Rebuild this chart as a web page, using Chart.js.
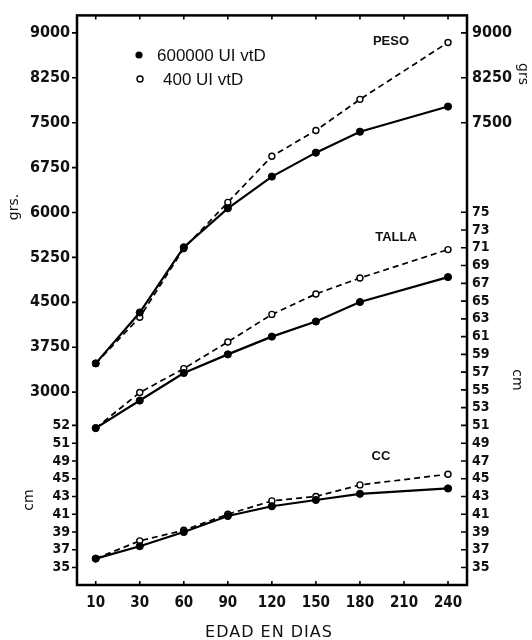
<!DOCTYPE html>
<html>
<head>
<meta charset="utf-8">
<script src="https://cdn.jsdelivr.net/npm/chart.js@4"></script>
<style>
html,body{margin:0;padding:0;background:#fff;}
#wrap{width:532px;height:640px;}
</style>
</head>
<body>
<div id="wrap"><canvas id="c" width="532" height="640"></canvas></div>
<script>
// ---- data ----
const xLabels = ['10','30','60','90','120','150','180','210','240'];
const days = ['10','30','60','90','120','150','180','240'];
const pesoHigh = [3480, 4330, 5420, 6070, 6600, 7000, 7350, 7770];
const pesoLow  = [3480, 4250, 5400, 6170, 6940, 7370, 7890, 8840];
const tallaHigh = [50.7, 53.8, 56.9, 59.0, 61.0, 62.7, 64.9, 67.7];
const tallaLow  = [50.7, 54.7, 57.4, 60.4, 63.5, 65.8, 67.6, 70.8];
const ccHigh = [36.0, 37.4, 39.0, 40.8, 41.9, 42.6, 43.3, 43.9];
const ccLow  = [36.0, 38.0, 39.2, 41.0, 42.5, 43.0, 44.3, 45.5];
const grsTicksLeft = [3000, 3750, 4500, 5250, 6000, 6750, 7500, 8250, 9000];
const grsTicksRight = [7500, 8250, 9000];
const cmTicksRight = [35,37,39,41,43,45,47,49,51,53,55,57,59,61,63,65,67,69,71,73,75];
const cmTicksLeftPos = [35,37,39,41,43,45,47,49,51];
const cmTicksLeftText = ['35','37','39','41','43','45','49','51','52'];
const seriesNames = ['600000 UI vtD', '400 UI vtD'];
const groupNames = ['PESO', 'TALLA', 'CC'];
const leftTitles = ['grs.', 'cm'];
const rightTitles = ['grs', 'cm'];
const xTitle = 'EDAD EN DIAS';

// ---- scale ranges ----
const GRS_MIN = -221, GRS_MAX = 9292;
const CM_MIN = 33.03, CM_MAX = 97.17;
const X_MIN = -0.425, X_MAX = 8.431;
const cmToGrs = c => GRS_MIN + (c - CM_MIN) / (CM_MAX - CM_MIN) * (GRS_MAX - GRS_MIN);
const grsToCm = g => CM_MIN + (g - GRS_MIN) / (GRS_MAX - GRS_MIN) * (CM_MAX - CM_MIN);

const pts = arr => arr.map((v, i) => ({x: xLabels.indexOf(days[i]), y: v}));

const solid = (data, axis) => ({
  data: pts(data), yAxisID: axis, borderColor: '#000', borderWidth: 2.2,
  pointRadius: 3.6, pointBackgroundColor: '#000', pointBorderColor: '#000',
  pointBorderWidth: 1, tension: 0, fill: false
});
const dashed = (data, axis) => ({
  data: pts(data), yAxisID: axis, borderColor: '#000', borderWidth: 1.7,
  borderDash: [6, 4], pointRadius: 3, pointBackgroundColor: '#fff',
  pointBorderColor: '#000', pointBorderWidth: 1.4, tension: 0, fill: false
});

const tickFont = {family: 'DejaVu Sans Condensed', size: 16, weight: 'bold'};
const smallFont = {family: 'DejaVu Sans Condensed', size: 14, weight: 'bold'};

const decor = {
  id: 'decor',
  afterDraw(chart) {
    const ctx = chart.ctx, a = chart.chartArea;
    const sx = chart.scales.x, sy = chart.scales.y, sy2 = chart.scales.y2;
    ctx.save();
    ctx.strokeStyle = '#000';
    // frame
    ctx.lineWidth = 2.5;
    ctx.strokeRect(a.left, a.top, a.right - a.left, a.bottom - a.top);
    ctx.lineWidth = 1.6;
    ctx.beginPath();
    // left ticks outward
    sy.ticks.forEach(t => {
      const p = sy.getPixelForValue(t.value);
      ctx.moveTo(a.left - 5, p); ctx.lineTo(a.left, p);
    });
    // right ticks inward
    sy2.ticks.forEach(t => {
      const p = sy2.getPixelForValue(t.value);
      ctx.moveTo(a.right - 6, p); ctx.lineTo(a.right, p);
    });
    // bottom / top ticks inward
    sx.ticks.forEach(t => {
      const p = sx.getPixelForValue(t.value);
      ctx.moveTo(p, a.bottom); ctx.lineTo(p, a.bottom - 4);
      ctx.moveTo(p, a.top); ctx.lineTo(p, a.top + 4);
    });
    ctx.stroke();

    // legend
    const ds0 = chart.data.datasets[0], ds1 = chart.data.datasets[1];
    ctx.beginPath(); ctx.arc(139, 55, 3.6, 0, Math.PI * 2);
    ctx.fillStyle = ds0.pointBackgroundColor; ctx.fill();
    ctx.beginPath(); ctx.arc(140, 79, 3, 0, Math.PI * 2);
    ctx.fillStyle = ds1.pointBackgroundColor; ctx.fill();
    ctx.lineWidth = 1.4; ctx.strokeStyle = ds1.pointBorderColor; ctx.stroke();
    ctx.fillStyle = '#111';
    ctx.font = '17px "Liberation Sans"';
    ctx.textBaseline = 'middle'; ctx.textAlign = 'left';
    ctx.fillText(seriesNames[0], 157, 56);
    ctx.fillText(seriesNames[1], 163, 80);

    // group labels
    ctx.font = 'bold 13px "Liberation Sans"';
    ctx.textAlign = 'center';
    ctx.fillText(groupNames[0], 391, 41);
    ctx.fillText(groupNames[1], 396, 237);
    ctx.fillText(groupNames[2], 381, 456);

    // x title
    ctx.font = '16px "DejaVu Sans"';
    try { ctx.letterSpacing = '1px'; } catch (e) {}
    ctx.fillText(xTitle, 269, 633);
    try { ctx.letterSpacing = '0px'; } catch (e) {}

    // axis titles
    ctx.font = '14px "DejaVu Sans"';
    const rot = (txt, x, y, ang) => {
      ctx.save(); ctx.translate(x, y); ctx.rotate(ang);
      ctx.fillText(txt, 0, 0); ctx.restore();
    };
    rot(leftTitles[0], 14, 207, -Math.PI / 2);
    rot(leftTitles[1], 29, 500, -Math.PI / 2);
    rot(rightTitles[0], 523, 74, Math.PI / 2);
    rot(rightTitles[1], 517, 380, Math.PI / 2);
    ctx.restore();
  }
};

new Chart(document.getElementById('c'), {
  type: 'line',
  data: {
    datasets: [
      solid(pesoHigh, 'y'), dashed(pesoLow, 'y'),
      solid(tallaHigh, 'y2'), dashed(tallaLow, 'y2'),
      solid(ccHigh, 'y2'), dashed(ccLow, 'y2')
    ]
  },
  options: {
    responsive: false,
    animation: false,
    devicePixelRatio: 1,
    layout: {padding: {top: 15, left: 0, right: 0, bottom: 0}},
    plugins: {legend: {display: false}, tooltip: {enabled: false}},
    scales: {
      x: {
        type: 'linear', min: X_MIN, max: X_MAX,
        afterBuildTicks: s => { s.ticks = xLabels.map((l, i) => ({value: i})); },
        afterFit: s => { s.height = 55; },
        grid: {drawOnChartArea: false, drawTicks: false},
        border: {display: false},
        ticks: {autoSkip: false, maxRotation: 0, padding: 9, color: '#111',
          font: {family: 'DejaVu Sans Condensed', size: 15, weight: 'bold'},
          callback: v => xLabels[v]}
      },
      y: {
        type: 'linear', position: 'left', min: GRS_MIN, max: GRS_MAX,
        afterBuildTicks: s => {
          s.ticks = grsTicksLeft.map(v => ({value: v, txt: String(v), small: false}))
            .concat(cmTicksLeftPos.map((c, i) => ({value: cmToGrs(c), txt: cmTicksLeftText[i], small: true})));
        },
        afterFit: s => { s.width = 77; },
        grid: {drawOnChartArea: false, drawTicks: false},
        border: {display: false},
        ticks: {autoSkip: false, padding: 7, color: '#111',
          font: c => (c.tick && c.tick.small) ? smallFont : tickFont,
          callback: (v, i, t) => t[i].txt}
      },
      y2: {
        type: 'linear', position: 'right', min: CM_MIN, max: CM_MAX,
        afterBuildTicks: s => {
          s.ticks = cmTicksRight.map(v => ({value: v, txt: String(v), small: true}))
            .concat(grsTicksRight.map(g => ({value: grsToCm(g), txt: String(g), small: false})));
        },
        afterFit: s => { s.width = 65; },
        grid: {drawOnChartArea: false, drawTicks: false},
        border: {display: false},
        ticks: {autoSkip: false, padding: 5, color: '#111',
          font: c => (c.tick && c.tick.small) ? smallFont : tickFont,
          callback: (v, i, t) => t[i].txt}
      }
    }
  },
  plugins: [decor]
});
</script>
</body>
</html>
